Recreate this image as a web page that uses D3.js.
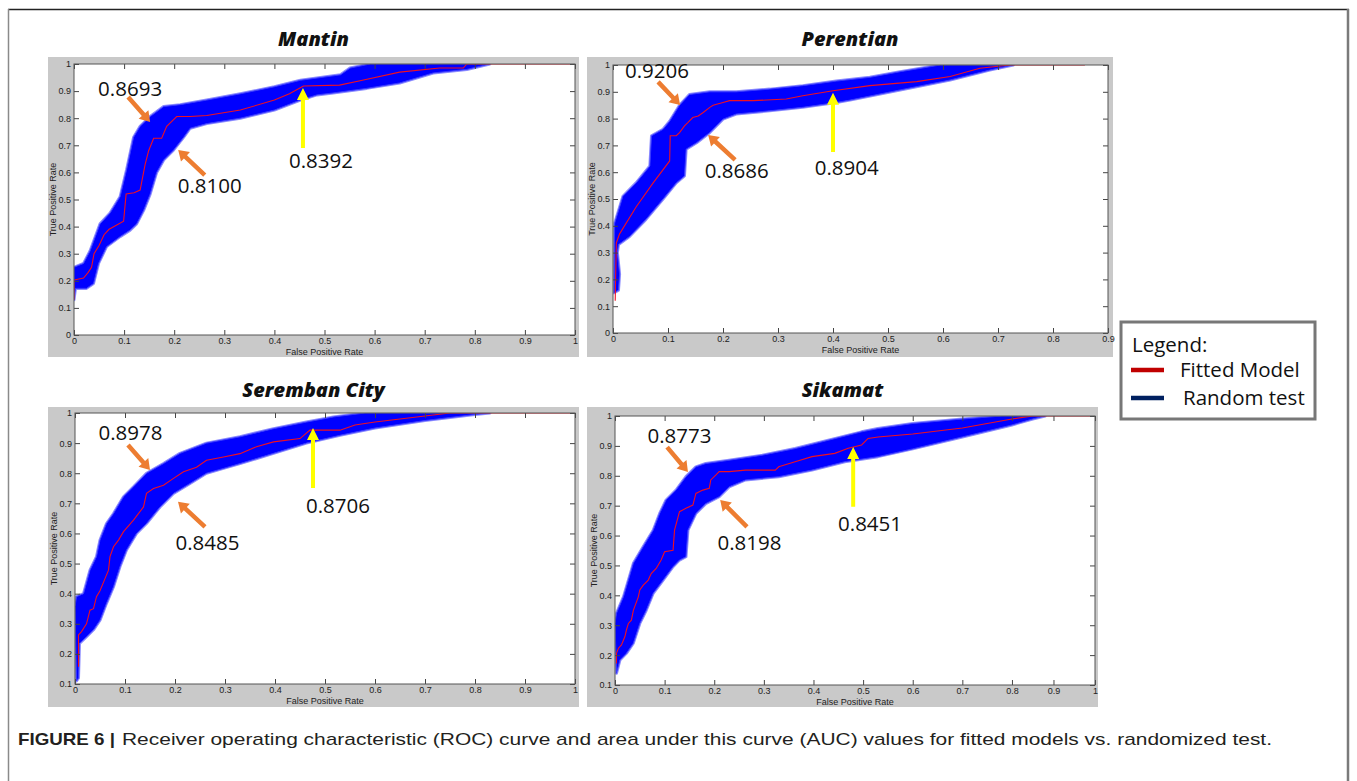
<!DOCTYPE html>
<html>
<head>
<meta charset="utf-8">
<script src="https://cdn.jsdelivr.net/npm/d3@7"></script>
<style>
  body { margin: 0; background: #fff; }
  svg { display: block; }
</style>
</head>
<body>
<svg id="fig" width="1357" height="781"></svg>
<script>
// ---- data: [false positive rate, true positive rate] ----
const panelTitles = ['Mantin', 'Perentian', 'Seremban City', 'Sikamat'];

const ticksZeroToOne = [0, 0.1, 0.2, 0.3, 0.4, 0.5, 0.6, 0.7, 0.8, 0.9, 1];
const ticksZeroToNine = [0, 0.1, 0.2, 0.3, 0.4, 0.5, 0.6, 0.7, 0.8, 0.9];
const ticksTenthToOne = [0.1, 0.2, 0.3, 0.4, 0.5, 0.6, 0.7, 0.8, 0.9, 1];

const mantinFitted = [[0,0.13],[0,0.203],[0.019,0.21],[0.028,0.23],[0.035,0.25],[0.04,0.3],[0.05,0.33],[0.06,0.37],[0.07,0.39],[0.08,0.4],[0.099,0.42],[0.104,0.52],[0.12,0.525],[0.132,0.535],[0.142,0.63],[0.149,0.68],[0.159,0.726],[0.175,0.726],[0.185,0.77],[0.205,0.806],[0.232,0.806],[0.265,0.81],[0.332,0.83],[0.4,0.867],[0.43,0.89],[0.458,0.919],[0.53,0.922],[0.571,0.938],[0.65,0.97],[0.73,0.985],[0.777,0.985],[0.784,1],[1,1]];
const mantinRandomUpper = [[0,0.25],[0.019,0.264],[0.032,0.31],[0.052,0.41],[0.072,0.45],[0.092,0.51],[0.105,0.61],[0.119,0.73],[0.132,0.77],[0.152,0.806],[0.179,0.843],[0.212,0.85],[0.265,0.867],[0.332,0.89],[0.4,0.916],[0.452,0.94],[0.532,0.96],[0.551,0.985],[0.591,1]];
const mantinRandomLower = [[0,0.13],[0.003,0.172],[0.025,0.172],[0.039,0.19],[0.049,0.264],[0.065,0.326],[0.092,0.363],[0.112,0.387],[0.125,0.41],[0.139,0.46],[0.152,0.52],[0.165,0.6],[0.179,0.646],[0.199,0.683],[0.219,0.73],[0.232,0.763],[0.265,0.78],[0.332,0.8],[0.4,0.83],[0.452,0.867],[0.485,0.886],[0.517,0.893],[0.584,0.91],[0.65,0.93],[0.717,0.967],[0.784,0.98],[0.83,1]];
const mantinAuc = ['0.8693', '0.8100', '0.8392'];

const perentianFitted = [[0.004,0.12],[0.006,0.336],[0.012,0.37],[0.042,0.47],[0.073,0.56],[0.103,0.642],[0.104,0.736],[0.115,0.736],[0.121,0.748],[0.13,0.773],[0.136,0.785],[0.145,0.804],[0.155,0.81],[0.164,0.823],[0.176,0.842],[0.182,0.85],[0.2,0.86],[0.212,0.867],[0.255,0.867],[0.315,0.873],[0.345,0.885],[0.4,0.904],[0.467,0.923],[0.552,0.938],[0.613,0.957],[0.667,0.988],[0.722,1],[0.858,1]];
const perentianRandomUpper = [[0.003,0.41],[0.018,0.51],[0.042,0.56],[0.067,0.623],[0.07,0.736],[0.091,0.76],[0.103,0.79],[0.121,0.85],[0.139,0.89],[0.176,0.9],[0.224,0.9],[0.285,0.91],[0.345,0.923],[0.406,0.94],[0.467,0.954],[0.522,0.975],[0.595,1]];
const perentianRandomLower = [[0.002,0.15],[0.01,0.16],[0.012,0.22],[0.008,0.3],[0.01,0.33],[0.03,0.36],[0.06,0.424],[0.091,0.5],[0.115,0.56],[0.13,0.586],[0.133,0.686],[0.152,0.71],[0.176,0.748],[0.2,0.798],[0.224,0.817],[0.285,0.829],[0.345,0.842],[0.406,0.86],[0.431,0.869],[0.522,0.907],[0.613,0.944],[0.685,0.981],[0.728,1]];
const perentianAuc = ['0.9206', '0.8686', '0.8904'];

const serembanFitted = [[0.007,0.157],[0.007,0.263],[0.013,0.274],[0.023,0.3],[0.03,0.345],[0.037,0.35],[0.043,0.39],[0.05,0.41],[0.06,0.45],[0.067,0.478],[0.07,0.523],[0.077,0.556],[0.087,0.578],[0.097,0.606],[0.117,0.644],[0.137,0.688],[0.143,0.733],[0.157,0.749],[0.177,0.76],[0.197,0.783],[0.217,0.805],[0.243,0.82],[0.263,0.843],[0.297,0.854],[0.33,0.865],[0.363,0.888],[0.397,0.904],[0.45,0.915],[0.47,0.943],[0.53,0.943],[0.56,0.96],[0.6,0.97],[0.65,0.98],[0.7,0.99],[0.75,1],[1,1]];
const serembanRandomUpper = [[0,0.357],[0.003,0.39],[0.017,0.4],[0.03,0.478],[0.043,0.523],[0.05,0.578],[0.063,0.633],[0.077,0.666],[0.097,0.722],[0.117,0.755],[0.143,0.8],[0.177,0.832],[0.21,0.866],[0.263,0.9],[0.33,0.921],[0.397,0.948],[0.463,0.97],[0.517,0.987],[0.58,1]];
const serembanRandomLower = [[0.003,0.11],[0.007,0.12],[0.009,0.235],[0.023,0.257],[0.037,0.28],[0.05,0.312],[0.063,0.368],[0.077,0.423],[0.09,0.49],[0.103,0.545],[0.123,0.6],[0.143,0.633],[0.17,0.688],[0.197,0.733],[0.23,0.766],[0.263,0.8],[0.297,0.816],[0.33,0.832],[0.397,0.866],[0.463,0.9],[0.53,0.926],[0.6,0.95],[0.7,0.975],[0.8,0.995],[0.83,1]];
const serembanAuc = ['0.8978', '0.8485', '0.8706'];

const sikamatFitted = [[0.003,0.172],[0.003,0.206],[0.007,0.223],[0.013,0.234],[0.02,0.262],[0.023,0.284],[0.027,0.306],[0.033,0.317],[0.037,0.35],[0.047,0.395],[0.05,0.418],[0.057,0.434],[0.067,0.451],[0.073,0.473],[0.083,0.49],[0.093,0.518],[0.1,0.546],[0.117,0.551],[0.12,0.618],[0.13,0.68],[0.143,0.691],[0.157,0.702],[0.163,0.741],[0.177,0.752],[0.19,0.758],[0.193,0.786],[0.203,0.802],[0.21,0.814],[0.23,0.814],[0.263,0.819],[0.323,0.819],[0.33,0.83],[0.363,0.847],[0.397,0.864],[0.443,0.875],[0.47,0.892],[0.497,0.903],[0.51,0.925],[0.53,0.93],[0.6,0.94],[0.7,0.96],[0.75,0.975],[0.8,0.99],[0.85,1],[1,1]];
const sikamatRandomUpper = [[0,0.306],[0.003,0.34],[0.017,0.395],[0.037,0.507],[0.057,0.563],[0.077,0.618],[0.09,0.674],[0.103,0.719],[0.123,0.752],[0.143,0.797],[0.163,0.83],[0.183,0.841],[0.23,0.852],[0.297,0.869],[0.363,0.891],[0.43,0.919],[0.497,0.947],[0.53,0.958],[0.6,0.975],[0.7,0.99],[0.78,1]];
const sikamatRandomLower = [[0.003,0.139],[0.01,0.184],[0.023,0.206],[0.037,0.24],[0.05,0.306],[0.063,0.35],[0.077,0.407],[0.097,0.451],[0.117,0.496],[0.13,0.518],[0.143,0.529],[0.147,0.618],[0.163,0.674],[0.183,0.707],[0.21,0.73],[0.23,0.763],[0.263,0.786],[0.33,0.797],[0.397,0.819],[0.463,0.847],[0.53,0.864],[0.6,0.89],[0.7,0.93],[0.8,0.97],[0.85,0.99],[0.88,1]];
const sikamatAuc = ['0.8773', '0.8198', '0.8451'];

const legendLabels = ['Fitted Model', 'Random test'];
const captionLead = 'FIGURE 6 |';
const captionText = 'Receiver operating characteristic (ROC) curve and area under this curve (AUC) values for fitted models vs. randomized test.';

// ---- layout ----
const ORANGE = '#ed7d31';
const YELLOW = '#ffff00';
const FIT_RED = '#f01020';
const RAND_BLUE = '#0000ff';

// arrows / labels are placed in data coordinates of each panel
const panels = [
  {
    title: panelTitles[0], titleY: 46,
    bg: [48, 57, 579, 357], plot: [74, 64, 575, 335],
    xDomain: [0, 1], xTicks: ticksZeroToOne, yDomain: [0, 1], yTicks: ticksZeroToOne,
    fitted: mantinFitted, upper: mantinRandomUpper, lower: mantinRandomLower, auc: mantinAuc,
    notes: [
      { label: [0.112, 0.911], tail: [0.108, 0.878], tip: [0.152, 0.786], color: ORANGE },
      { label: [0.271, 0.553], tail: [0.261, 0.59], tip: [0.208, 0.683], color: ORANGE },
      { label: [0.493, 0.646], tail: [0.457, 0.69], tip: [0.457, 0.911], color: YELLOW }
    ]
  },
  {
    title: panelTitles[1], titleY: 46,
    bg: [587, 57, 1113, 357], plot: [613, 65, 1108, 333],
    xDomain: [0, 0.9], xTicks: ticksZeroToNine, yDomain: [0, 1], yTicks: ticksZeroToOne,
    fitted: perentianFitted, upper: perentianRandomUpper, lower: perentianRandomLower, auc: perentianAuc,
    notes: [
      { label: [0.08, 0.981], tail: [0.082, 0.937], tip: [0.122, 0.851], color: ORANGE },
      { label: [0.225, 0.608], tail: [0.222, 0.646], tip: [0.173, 0.739], color: ORANGE },
      { label: [0.425, 0.619], tail: [0.4, 0.675], tip: [0.4, 0.896], color: YELLOW }
    ]
  },
  {
    title: panelTitles[2], titleY: 397,
    bg: [48, 407, 579, 707], plot: [75, 413, 575, 684],
    xDomain: [0, 1], xTicks: ticksZeroToOne, yDomain: [0.1, 1], yTicks: ticksTenthToOne,
    fitted: serembanFitted, upper: serembanRandomUpper, lower: serembanRandomLower, auc: serembanAuc,
    notes: [
      { label: [0.111, 0.937], tail: [0.106, 0.894], tip: [0.15, 0.811], color: ORANGE },
      { label: [0.265, 0.572], tail: [0.26, 0.622], tip: [0.206, 0.705], color: ORANGE },
      { label: [0.526, 0.695], tail: [0.476, 0.751], tip: [0.476, 0.95], color: YELLOW }
    ]
  },
  {
    title: panelTitles[3], titleY: 397,
    bg: [587, 407, 1098, 707], plot: [615, 416, 1095, 685],
    xDomain: [0, 0.8, 1], xRangeMid: 0.827, xTicks: ticksZeroToOne, yDomain: [0.1, 1], yTicks: ticksTenthToOne,
    fitted: sikamatFitted, upper: sikamatRandomUpper, lower: sikamatRandomLower, auc: sikamatAuc,
    notes: [
      { label: [0.13, 0.936], tail: [0.105, 0.896], tip: [0.147, 0.813], color: ORANGE },
      { label: [0.271, 0.578], tail: [0.266, 0.629], tip: [0.212, 0.719], color: ORANGE },
      { label: [0.514, 0.642], tail: [0.48, 0.696], tip: [0.48, 0.896], color: YELLOW }
    ]
  }
];

const svg = d3.select('#fig');
const tickFmt = d3.format('~g');

// outer frame of the figure
svg.append('line').attr('x1', 8).attr('x2', 1349).attr('y1', 9.5).attr('y2', 9.5)
  .attr('stroke', '#222').attr('stroke-width', 1.5);
svg.append('line').attr('x1', 8.5).attr('x2', 8.5).attr('y1', 9).attr('y2', 781)
  .attr('stroke', '#8a8a8a').attr('stroke-width', 1.5);
svg.append('line').attr('x1', 1348).attr('x2', 1348).attr('y1', 9).attr('y2', 781)
  .attr('stroke', '#7a7a7a').attr('stroke-width', 2.5);

function arrowPoints (x1, y1, x2, y2, shaft, headW, headL) {
  const len = Math.hypot(x2 - x1, y2 - y1);
  const ux = (x2 - x1) / len, uy = (y2 - y1) / len;
  const nx = -uy, ny = ux;
  const bx = x2 - ux * headL, by = y2 - uy * headL;
  return [
    [x1 + nx * shaft / 2, y1 + ny * shaft / 2],
    [bx + nx * shaft / 2, by + ny * shaft / 2],
    [bx + nx * headW / 2, by + ny * headW / 2],
    [x2, y2],
    [bx - nx * headW / 2, by - ny * headW / 2],
    [bx - nx * shaft / 2, by - ny * shaft / 2],
    [x1 - nx * shaft / 2, y1 - ny * shaft / 2]
  ];
}

panels.forEach((p, idx) => {
  const [l, t, r, b] = p.plot;
  const x = d3.scaleLinear().domain(p.xDomain)
    .range(p.xDomain.length === 3 ? [l, l + (r - l) * p.xRangeMid, r] : [l, r]);
  const y = d3.scaleLinear().domain(p.yDomain).range([b, t]);

  const g = svg.append('g');

  // grey MATLAB figure background
  g.append('rect')
    .attr('x', p.bg[0]).attr('y', p.bg[1])
    .attr('width', p.bg[2] - p.bg[0]).attr('height', p.bg[3] - p.bg[1])
    .attr('fill', '#c9c9c9');
  g.append('rect')
    .attr('x', l).attr('y', t).attr('width', r - l).attr('height', b - t)
    .attr('fill', '#fff');

  // title
  svg.append('text')
    .attr('x', (p.bg[0] + p.bg[2]) / 2).attr('y', p.titleY)
    .attr('text-anchor', 'middle')
    .style('font-family', '"Open Sans", "Noto Sans", sans-serif')
    .style('font-size', '20px').style('font-weight', 800).style('font-style', 'italic')
    .attr('fill', '#111')
    .text(p.title);

  const clipId = 'clip' + idx;
  g.append('clipPath').attr('id', clipId)
    .append('rect').attr('x', l).attr('y', t).attr('width', r - l).attr('height', b - t);
  const plotG = g.append('g').attr('clip-path', `url(#${clipId})`);

  // band of randomised test curves
  const bandPts = p.upper.concat(p.lower.slice().reverse());
  const line = d3.line().x(d => x(d[0])).y(d => y(d[1]));
  plotG.append('path')
    .attr('d', line(bandPts) + 'Z')
    .attr('fill', 'none')
    .attr('stroke', '#8a8aff')
    .attr('stroke-width', 3)
    .attr('stroke-linejoin', 'round');
  plotG.append('path')
    .attr('d', line(bandPts) + 'Z')
    .attr('fill', RAND_BLUE)
    .attr('stroke', '#3a3aff')
    .attr('stroke-width', 1)
    .attr('stroke-linejoin', 'round');

  // fitted model
  plotG.append('path')
    .attr('d', line(p.fitted))
    .attr('fill', 'none')
    .attr('stroke', FIT_RED)
    .attr('stroke-width', 1.1);

  // axes with inward ticks on all four sides
  const axisFont = g => g.selectAll('text')
    .style('font-family', '"Liberation Sans", Arial, sans-serif')
    .style('font-size', '9px').attr('fill', '#222');
  const tickStyle = g => {
    g.select('.domain').remove();
    g.selectAll('line').attr('stroke', '#444');
  };

  g.append('g').attr('transform', `translate(0,${b})`)
    .call(d3.axisBottom(x).tickValues(p.xTicks).tickFormat(tickFmt).tickSize(-5).tickPadding(3))
    .call(tickStyle).call(axisFont);
  g.append('g').attr('transform', `translate(0,${t})`)
    .call(d3.axisTop(x).tickValues(p.xTicks).tickFormat('').tickSize(-5))
    .call(tickStyle);
  g.append('g').attr('transform', `translate(${l},0)`)
    .call(d3.axisLeft(y).tickValues(p.yTicks).tickFormat(tickFmt).tickSize(-5).tickPadding(3))
    .call(tickStyle).call(axisFont);
  g.append('g').attr('transform', `translate(${r},0)`)
    .call(d3.axisRight(y).tickValues(p.yTicks).tickFormat('').tickSize(-5))
    .call(tickStyle);

  g.append('rect')
    .attr('x', l).attr('y', t).attr('width', r - l).attr('height', b - t)
    .attr('fill', 'none').attr('stroke', '#555').attr('stroke-width', 1);

  // axis labels
  g.append('text')
    .attr('x', (l + r) / 2).attr('y', b + 20)
    .attr('text-anchor', 'middle')
    .style('font-family', '"Liberation Sans", Arial, sans-serif').style('font-size', '9px')
    .attr('fill', '#222')
    .text('False Positive Rate');
  g.append('text')
    .attr('transform', `translate(${l - 18},${(t + b) / 2}) rotate(-90)`)
    .attr('text-anchor', 'middle')
    .style('font-family', '"Liberation Sans", Arial, sans-serif').style('font-size', '9px')
    .attr('fill', '#222')
    .text('True Positive Rate');

  // AUC notes with arrows
  p.notes.forEach((n, i) => {
    const isYellow = n.color === YELLOW;
    const pts = arrowPoints(x(n.tail[0]), y(n.tail[1]), x(n.tip[0]), y(n.tip[1]),
      isYellow ? 4 : 4.5, isYellow ? 12 : 13, isYellow ? 12 : 10);
    svg.append('polygon')
      .attr('points', pts.map(d => d.join(',')).join(' '))
      .attr('fill', n.color);
    svg.append('text')
      .attr('x', x(n.label[0])).attr('y', y(n.label[1]))
      .attr('text-anchor', 'middle').attr('dominant-baseline', 'central')
      .style('font-family', '"Open Sans", "Noto Sans", sans-serif')
      .style('font-size', '20.5px')
      .attr('fill', '#111')
      .text(p.auc[i]);
  });
});

// legend
const legend = svg.append('g');
legend.append('rect')
  .attr('x', 1121).attr('y', 322).attr('width', 194).attr('height', 97)
  .attr('fill', '#fff').attr('stroke', '#777').attr('stroke-width', 3);
const legendFont = s => s
  .style('font-family', '"Open Sans", "Noto Sans", sans-serif')
  .style('font-size', '20.5px').attr('fill', '#111');
legend.append('text').attr('x', 1132).attr('y', 352).text('Legend:').call(legendFont);
const legendColors = ['#c00000', '#002060'];
legendLabels.forEach((lab, i) => {
  const cy = 370 + i * 28;
  legend.append('line')
    .attr('x1', 1131).attr('x2', 1164).attr('y1', cy).attr('y2', cy)
    .attr('stroke', legendColors[i]).attr('stroke-width', 4.5);
  legend.append('text').attr('x', 1180 + i * 3).attr('y', cy + 7).text(lab).call(legendFont);
});

// caption (condensed by squeezing to the measured width)
const captionFont = s => s
  .style('font-family', '"Liberation Sans Narrow", "Arial Narrow", "Liberation Sans", sans-serif')
  .style('font-size', '17px').attr('fill', '#231f20')
  .attr('lengthAdjust', 'spacingAndGlyphs');
svg.append('text')
  .attr('x', 18).attr('y', 745)
  .call(captionFont)
  .attr('textLength', 97)
  .style('font-weight', 700)
  .text(captionLead);
svg.append('text')
  .attr('x', 122).attr('y', 745)
  .call(captionFont)
  .attr('textLength', 1150)
  .text(captionText);
</script>
</body>
</html>
